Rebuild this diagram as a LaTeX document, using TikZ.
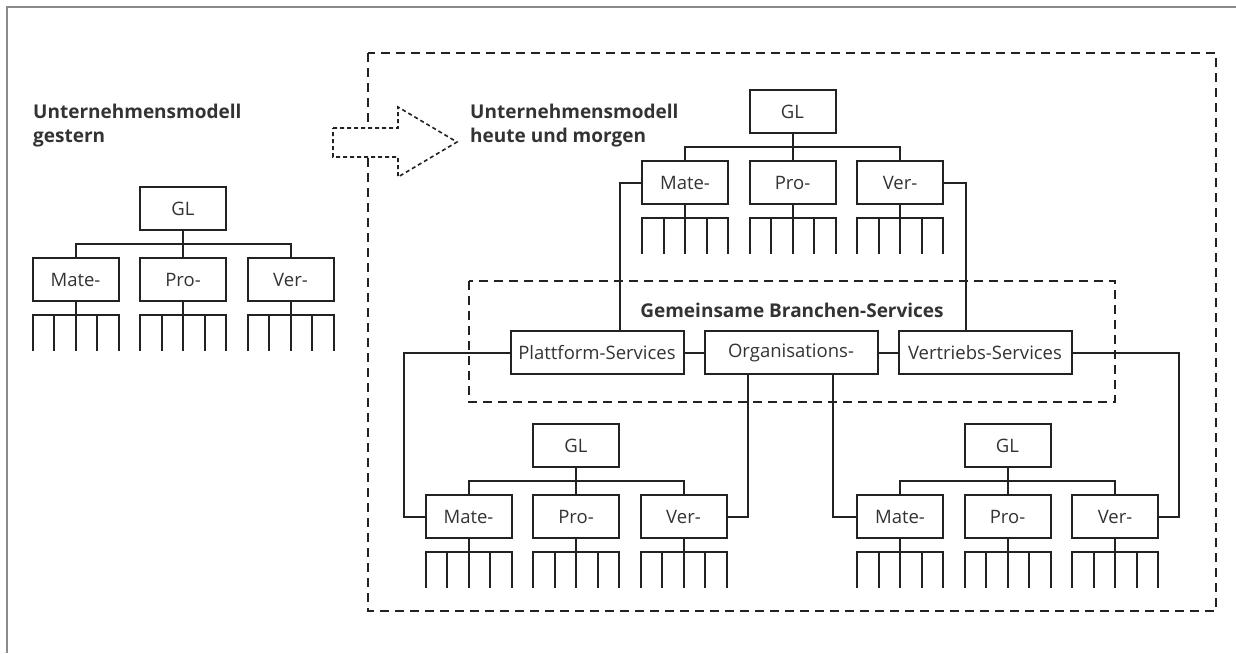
\documentclass[tikz,border=0pt]{standalone}
\usepackage{fontspec}
\setmainfont{Open Sans}
\usetikzlibrary{calc}
\definecolor{ink}{HTML}{222222}
\definecolor{txt}{HTML}{333333}
\definecolor{frame}{HTML}{8A8A8A}
\tikzset{
  box/.style={draw=ink, line width=2pt, minimum width=86pt, minimum height=43pt, inner sep=0pt, font=\fontsize{18.5}{20}\selectfont, text=txt},
  svc/.style={box, minimum width=173pt},
  conn/.style={draw=ink, line width=2pt},
  title/.style={font=\bfseries\fontsize{19}{22}\selectfont, text=txt, inner sep=0pt},
  dashbox/.style={draw=ink, line width=2pt, dash pattern=on 9pt off 6pt},
  dotarrow/.style={draw=ink, line width=1.6pt, dash pattern=on 4pt off 3pt, fill=white}
}
\newcommand{\orgchart}[3]{%
  \node[box] (#1gl) at (#2, #3+21.5) {GL};
  \node[box] (#1m) at (#2-107.5, #3+92.5) {Mate-};
  \node[box] (#1p) at (#2, #3+92.5) {Pro-};
  \node[box] (#1v) at (#2+107.5, #3+92.5) {Ver-};
  \coordinate (#1j) at (#2, #3+57);
  \draw[conn] (#1gl.south) -- (#1p.north);
  \draw[conn] (#1m.north) |- (#1j) -| (#1v.north);
  \foreach \o in {-107.5,0,107.5}{
    \draw[conn] (#2+\o, #3+114) -- (#2+\o, #3+164);
    \draw[conn] (#2+\o-43, #3+164) -- (#2+\o-43, #3+128) -- (#2+\o+43, #3+128) -- (#2+\o+43, #3+164);
    \draw[conn] (#2+\o-21.5, #3+128) -- (#2+\o-21.5, #3+164);
    \draw[conn] (#2+\o+21.5, #3+128) -- (#2+\o+21.5, #3+164);
  }%
}
\begin{document}
\begin{tikzpicture}[x=1pt, y=-1pt]
\useasboundingbox (0,0) rectangle (1236,653);
% page frame (top and left only)
\draw[frame, line width=2pt] (7,653) -- (7,7) -- (1236,7);

% outer dashed area
\draw[dashbox] (368,53) rectangle (1216,611);
% inner dashed area
\draw[dashbox] (469,281) rectangle (1115,402);

% arrow
\draw[dotarrow] (333,128) -- (398,128) -- (398,107) -- (457,142) -- (398,177) -- (398,157) -- (333,157) -- cycle;

% titles
\node[title, anchor=base west] (ta) at (33,118) {Unternehmensmodell};
\node[title, anchor=base west] (tb) at (33,142) {gestern};
\node[title, anchor=base west] (tc) at (470,118) {Unternehmensmodell};
\node[title, anchor=base west] (td) at (470,142) {heute und morgen};
\node[title, anchor=base] (te) at (792,317) {Gemeinsame Branchen-Services};

% org charts
\orgchart{l}{183}{187}
\orgchart{t}{792.5}{90}
\orgchart{a}{576}{424}
\orgchart{b}{1007.5}{424}

% service boxes
\node[svc] (pl) at (597,352.5) {Plattform-Services};
\node[svc] (or) at (791,352.5) {Organisations-};
\node[svc] (ve) at (985,352.5) {Vertriebs-Services};
\draw[conn] (pl.east) -- (or.west);
\draw[conn] (or.east) -- (ve.west);

% bend coordinates
\coordinate (k1) at (620,0);
\coordinate (k2) at (966,0);
\coordinate (k3) at (404,0);
\coordinate (k4) at (748,0);
\coordinate (k5) at (833,0);
\coordinate (k6) at (1179,0);

\draw[conn] (tm.west) -- (tm.west -| k1) -- (k1 |- pl.north);
\draw[conn] (tv.east) -- (tv.east -| k2) -- (k2 |- ve.north);
\draw[conn] (pl.west) -- (pl.west -| k3) |- (am.west);
\draw[conn] (or.south -| k4) |- (av.east);
\draw[conn] (or.south -| k5) |- (bm.west);
\draw[conn] (ve.east) -- (ve.east -| k6) |- (bv.east);
\end{tikzpicture}
\end{document}
